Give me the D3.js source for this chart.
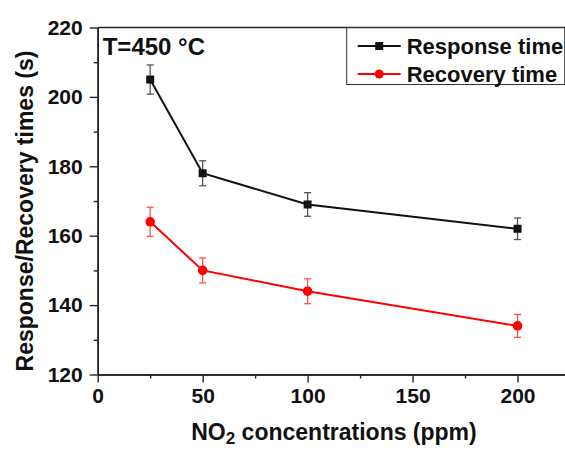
<!DOCTYPE html>
<html>
<head>
<meta charset="utf-8">
<script src="https://cdn.jsdelivr.net/npm/d3@7"></script>
<style>
  body { margin: 0; background: #fff; }
  text { font-family: "Liberation Sans", Arial, sans-serif; font-weight: bold; fill: #111; }
</style>
</head>
<body>
<script>
// data
var concentrations = [25, 50, 100, 200];
var responseTime = [205, 178, 169, 162];
var responseErr = [4.2, 3.6, 3.4, 3.1];
var recoveryTime = [164, 150, 144, 134];
var recoveryErr = [4.2, 3.6, 3.6, 3.3];
var xTicks = [0, 50, 100, 150, 200];
var xMinor = [25, 75, 125, 175];
var yTicks = [120, 140, 160, 180, 200, 220];
var yMinor = [130, 150, 170, 190, 210];
var seriesNames = ["Response time", "Recovery time"];

var svgWidth = 565;
var svgHeight = 450;

var margin = { top: 27.5, right: -5, bottom: 75.5, left: 97.7 };
var chartWidth = svgWidth - margin.left - margin.right;
var chartHeight = svgHeight - margin.top - margin.bottom;

var svg = d3.select("body")
  .append("svg")
  .attr("width", svgWidth)
  .attr("height", svgHeight);

var chartGroup = svg.append("g")
  .attr("transform", `translate(${margin.left}, ${margin.top})`);

var xScale = d3.scaleLinear().domain([0, 225]).range([0, chartWidth]);
var yScale = d3.scaleLinear().domain([120, 220]).range([chartHeight, 0]);

// minor ticks first
chartGroup.append("g")
  .attr("class", "minor")
  .attr("transform", `translate(0, ${chartHeight})`)
  .call(d3.axisBottom(xScale).tickValues(xMinor).tickSize(4).tickSizeOuter(0).tickFormat(""));
chartGroup.append("g")
  .attr("class", "minor")
  .call(d3.axisLeft(yScale).tickValues(yMinor).tickSize(4).tickSizeOuter(0).tickFormat(""));

// main axes
var xAxis = chartGroup.append("g")
  .attr("transform", `translate(0, ${chartHeight})`)
  .call(d3.axisBottom(xScale).tickValues(xTicks).tickSize(8).tickSizeOuter(0).tickPadding(6));
var yAxis = chartGroup.append("g")
  .call(d3.axisLeft(yScale).tickValues(yTicks).tickSize(8).tickSizeOuter(0).tickPadding(7));

chartGroup.selectAll(".domain").attr("stroke", "#222").attr("stroke-width", 1.6);
chartGroup.selectAll(".tick line").attr("stroke", "#222").attr("stroke-width", 1.4);
chartGroup.selectAll(".tick text")
  .style("font-size", "21px")
  .style("font-family", "'Liberation Sans', Arial, sans-serif")
  .style("font-weight", "bold")
  .attr("fill", "#111");

// top frame line
chartGroup.append("line")
  .attr("x1", 0).attr("x2", chartWidth)
  .attr("y1", 0).attr("y2", 0)
  .attr("stroke", "#222")
  .attr("stroke-width", 1.6);

var series = [
  { name: seriesNames[0], values: responseTime, err: responseErr, color: "#111", errColor: "#555", shape: "square" },
  { name: seriesNames[1], values: recoveryTime, err: recoveryErr, color: "#ff0000", errColor: "#ff5050", shape: "circle" }
];

var line = d3.line()
  .x(function(d) { return xScale(d.x); })
  .y(function(d) { return yScale(d.y); });

series.forEach(function(s) {
  var pts = concentrations.map(function(c, i) {
    return { x: c, y: s.values[i], e: s.err[i] };
  });

  chartGroup.append("path")
    .datum(pts)
    .attr("d", line)
    .attr("fill", "none")
    .attr("stroke", s.color)
    .attr("stroke-width", 2);

  // error bars
  var eb = chartGroup.append("g").attr("stroke", s.errColor).attr("stroke-width", 1.3);
  pts.forEach(function(p) {
    var cx = xScale(p.x);
    eb.append("line").attr("x1", cx).attr("x2", cx)
      .attr("y1", yScale(p.y + p.e)).attr("y2", yScale(p.y - p.e));
    eb.append("line").attr("x1", cx - 3.5).attr("x2", cx + 3.5)
      .attr("y1", yScale(p.y + p.e)).attr("y2", yScale(p.y + p.e));
    eb.append("line").attr("x1", cx - 3.5).attr("x2", cx + 3.5)
      .attr("y1", yScale(p.y - p.e)).attr("y2", yScale(p.y - p.e));
  });

  if (s.shape === "square") {
    chartGroup.selectAll(null)
      .data(pts)
      .enter()
      .append("rect")
      .attr("x", d => xScale(d.x) - 4)
      .attr("y", d => yScale(d.y) - 4)
      .attr("width", 8)
      .attr("height", 8)
      .attr("fill", s.color);
  } else {
    chartGroup.selectAll(null)
      .data(pts)
      .enter()
      .append("circle")
      .attr("cx", d => xScale(d.x))
      .attr("cy", d => yScale(d.y))
      .attr("r", 4.8)
      .attr("fill", s.color);
  }
});

// annotation
chartGroup.append("text")
  .attr("x", 5)
  .attr("y", 27.5)
  .style("font-size", "24px")
  .text("T=450 °C");

// legend
var legend = chartGroup.append("g")
  .attr("transform", `translate(${346.7 - margin.left}, 0)`);

legend.append("rect")
  .attr("x", 0)
  .attr("y", 0)
  .attr("width", 218)
  .attr("height", 57)
  .attr("fill", "none")
  .attr("stroke", "#333")
  .attr("stroke-width", 1);

series.forEach(function(s, i) {
  var ly = 18.5 + i * 28;
  legend.append("line")
    .attr("x1", 11).attr("x2", 54)
    .attr("y1", ly).attr("y2", ly)
    .attr("stroke", s.color)
    .attr("stroke-width", 1.8);
  if (s.shape === "square") {
    legend.append("rect")
      .attr("x", 32.5 - 4).attr("y", ly - 4)
      .attr("width", 8).attr("height", 8)
      .attr("fill", s.color);
  } else {
    legend.append("circle")
      .attr("cx", 32.5).attr("cy", ly)
      .attr("r", 4.5)
      .attr("fill", s.color);
  }
  legend.append("text")
    .attr("x", 60)
    .attr("y", ly + 7.5)
    .style("font-size", "22px")
    .text(s.name);
});

// axis titles
var xTitle = svg.append("text")
  .attr("x", 334)
  .attr("y", 440)
  .attr("text-anchor", "middle")
  .style("font-size", "23px");
xTitle.append("tspan").text("NO");
xTitle.append("tspan").attr("dy", 4).style("font-size", "17px").text("2");
xTitle.append("tspan").attr("dy", -4).text(" concentrations (ppm)");

svg.append("text")
  .attr("transform", "translate(33, 211) rotate(-90)")
  .attr("text-anchor", "middle")
  .style("font-size", "23px")
  .text("Response/Recovery times (s)");
</script>
</body>
</html>
